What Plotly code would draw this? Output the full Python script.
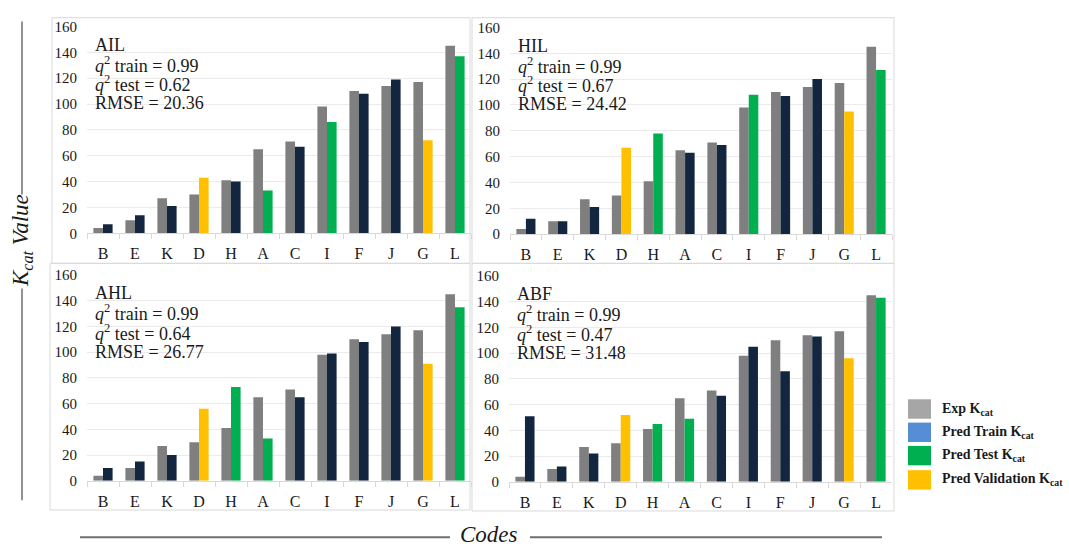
import plotly.graph_objects as go

W, H = 1069, 551

codes = ["B", "E", "K", "D", "H", "A", "C", "I", "F", "J", "G", "L"]
exp_kcat = [4, 10, 27, 30, 41, 65, 71, 98, 110, 114, 117, 145]

models = ["AIL", "HIL", "AHL", "ABF"]
q2_train = ["0.99", "0.99", "0.99", "0.99"]
q2_test = ["0.62", "0.67", "0.64", "0.47"]
rmse = ["20.36", "24.42", "26.77", "31.48"]

pred_ail = [7, 14, 21, 43, 40, 33, 67, 86, 108, 119, 72, 137]
pred_hil = [12, 10, 21, 67, 78, 63, 69, 108, 107, 120, 95, 127]
pred_ahl = [10, 15, 20, 56, 73, 33, 65, 99, 108, 120, 91, 135]
pred_abf = [51, 12, 22, 52, 45, 49, 67, 105, 86, 113, 96, 143]

# which subset each compound belongs to, per model
set_ail = ["train", "train", "train", "val", "train", "test", "train", "test", "train", "train", "val", "test"]
set_hil = ["train", "train", "train", "val", "test", "train", "train", "test", "train", "train", "val", "test"]
set_ahl = ["train", "train", "train", "val", "test", "test", "train", "train", "train", "train", "val", "test"]
set_abf = ["train", "train", "train", "val", "test", "test", "train", "train", "train", "train", "val", "test"]

legend_names = ["Exp K<sub>cat</sub>", "Pred Train K<sub>cat</sub>",
                "Pred Test K<sub>cat</sub>", "Pred Validation K<sub>cat</sub>"]
legend_colors = ["#a6a6a6", "#558ed5", "#00b050", "#ffc000"]

EXP_COLOR = "#7f7f7f"
SET_COLORS = {"train": "#13263f", "test": "#00b050", "val": "#ffc000"}

SERIF = "Times New Roman, Liberation Serif, DejaVu Serif, serif"

preds = [pred_ail, pred_hil, pred_ahl, pred_abf]
sets = [set_ail, set_hil, set_ahl, set_abf]

# panel geometry in pixels: plot left, plot right, y of 160, y of 0, box (x0, y0, x1, y1)
panels = [
    dict(left=87, right=471, top=19, bottom=232, box=(52, 10, 470, 263)),
    dict(left=510, right=892, top=20, bottom=233, box=(472, 10, 894, 263)),
    dict(left=87, right=471, top=275, bottom=487, box=(50, 263, 470, 517)),
    dict(left=509, right=892, top=276, bottom=488, box=(472, 263, 894, 518)),
]


def fx(px):
    return px / W


def fy(py):
    return 1 - py / H


fig = go.Figure()
layout = dict(
    width=W, height=H,
    margin=dict(l=0, r=0, t=0, b=0),
    paper_bgcolor="white", plot_bgcolor="white",
    barmode="group", bargap=0.4, bargroupgap=0,
    showlegend=False,
    font=dict(family=SERIF, color="#1a1a1a"),
)
annotations = []
shapes = []

for i, (model, pred, subset, p) in enumerate(zip(models, preds, sets, panels)):
    n = "" if i == 0 else str(i + 1)
    xa, ya = "x" + n, "y" + n
    fig.add_trace(go.Bar(x=codes, y=exp_kcat, marker=dict(color=EXP_COLOR, line=dict(width=0)),
                         xaxis=xa, yaxis=ya, offsetgroup="exp"))
    fig.add_trace(go.Bar(x=codes, y=pred, marker=dict(color=[SET_COLORS[s] for s in subset], line=dict(width=0)),
                         xaxis=xa, yaxis=ya, offsetgroup="pred"))
    layout["xaxis" + n] = dict(
        domain=[fx(p["left"]), fx(p["right"])], anchor=ya,
        type="category", categoryorder="array", categoryarray=codes,
        showgrid=False, showline=True, linecolor="#d9d9d9", linewidth=1,
        ticks="outside", tickson="boundaries", ticklen=5, tickcolor="#d9d9d9",
        tickfont=dict(family=SERIF, size=16, color="#1a1a1a"), ticklabelstandoff=6,
        fixedrange=True,
    )
    layout["yaxis" + n] = dict(
        domain=[fy(p["bottom"]), fy(p["top"])], anchor=xa,
        range=[0, 160], tickvals=list(range(0, 161, 20)),
        showgrid=True, gridcolor="#ebebeb", gridwidth=1, zeroline=False,
        showline=False, ticks="",
        tickfont=dict(family=SERIF, size=15, color="#1a1a1a"), ticklabelstandoff=9,
        fixedrange=True,
    )
    x0, y0, x1, y1 = p["box"]
    shapes.append(dict(type="rect", xref="paper", yref="paper",
                       x0=fx(x0), x1=fx(x1), y0=fy(y1), y1=fy(y0),
                       line=dict(color="#d9d9d9", width=1), fillcolor="rgba(0,0,0,0)", layer="below"))
    lines = [model,
             "<i>q</i><sup>2</sup> train = " + q2_train[i],
             "<i>q</i><sup>2</sup> test = " + q2_test[i],
             "RMSE = " + rmse[i]]
    for k, txt in enumerate(lines):
        annotations.append(dict(
            text=txt, xref="paper", yref="paper",
            x=fx(p["left"] + 6), y=fy(p["top"] + 19 + 20 * k),
            xanchor="left", yanchor="middle", showarrow=False,
            font=dict(family=SERIF, size=18, color="#1a1a1a"),
        ))

# y-axis title with flanking rules
annotations.append(dict(
    text="<i>K<sub>cat</sub> Value</i>", xref="paper", yref="paper",
    x=fx(22), y=fy(240), textangle=-90, showarrow=False,
    xanchor="center", yanchor="middle",
    font=dict(family=SERIF, size=23, color="#1a1a1a"),
))
shapes.append(dict(type="line", xref="paper", yref="paper", x0=fx(22), x1=fx(22), y0=fy(14), y1=fy(192),
                   line=dict(color="#6f6f6f", width=1.5)))
shapes.append(dict(type="line", xref="paper", yref="paper", x0=fx(22), x1=fx(22), y0=fy(289), y1=fy(507),
                   line=dict(color="#6f6f6f", width=1.5)))

# x-axis title with flanking rules
annotations.append(dict(
    text="<i>Codes</i>", xref="paper", yref="paper",
    x=fx(489), y=fy(542), showarrow=False,
    xanchor="center", yanchor="middle",
    font=dict(family=SERIF, size=23, color="#1a1a1a"),
))
shapes.append(dict(type="line", xref="paper", yref="paper", x0=fx(80), x1=fx(450), y0=fy(545), y1=fy(545),
                   line=dict(color="#6f6f6f", width=2)))
shapes.append(dict(type="line", xref="paper", yref="paper", x0=fx(530), x1=fx(882), y0=fy(545), y1=fy(545),
                   line=dict(color="#6f6f6f", width=2)))

# legend swatches and labels
legend_y = [413, 437, 461, 486]
for name, color, ly in zip(legend_names, legend_colors, legend_y):
    shapes.append(dict(type="rect", xref="paper", yref="paper",
                       x0=fx(908), x1=fx(931), y0=fy(ly + 10), y1=fy(ly - 10),
                       fillcolor=color, line=dict(width=0)))
    annotations.append(dict(
        text="<b>" + name + "</b>", xref="paper", yref="paper",
        x=fx(940), y=fy(ly), xanchor="left", yanchor="middle", showarrow=False,
        font=dict(family=SERIF, size=14, color="#1a1a1a"),
    ))

layout["annotations"] = annotations
layout["shapes"] = shapes
fig.update_layout(**layout)
fig.write_html("out.html")
